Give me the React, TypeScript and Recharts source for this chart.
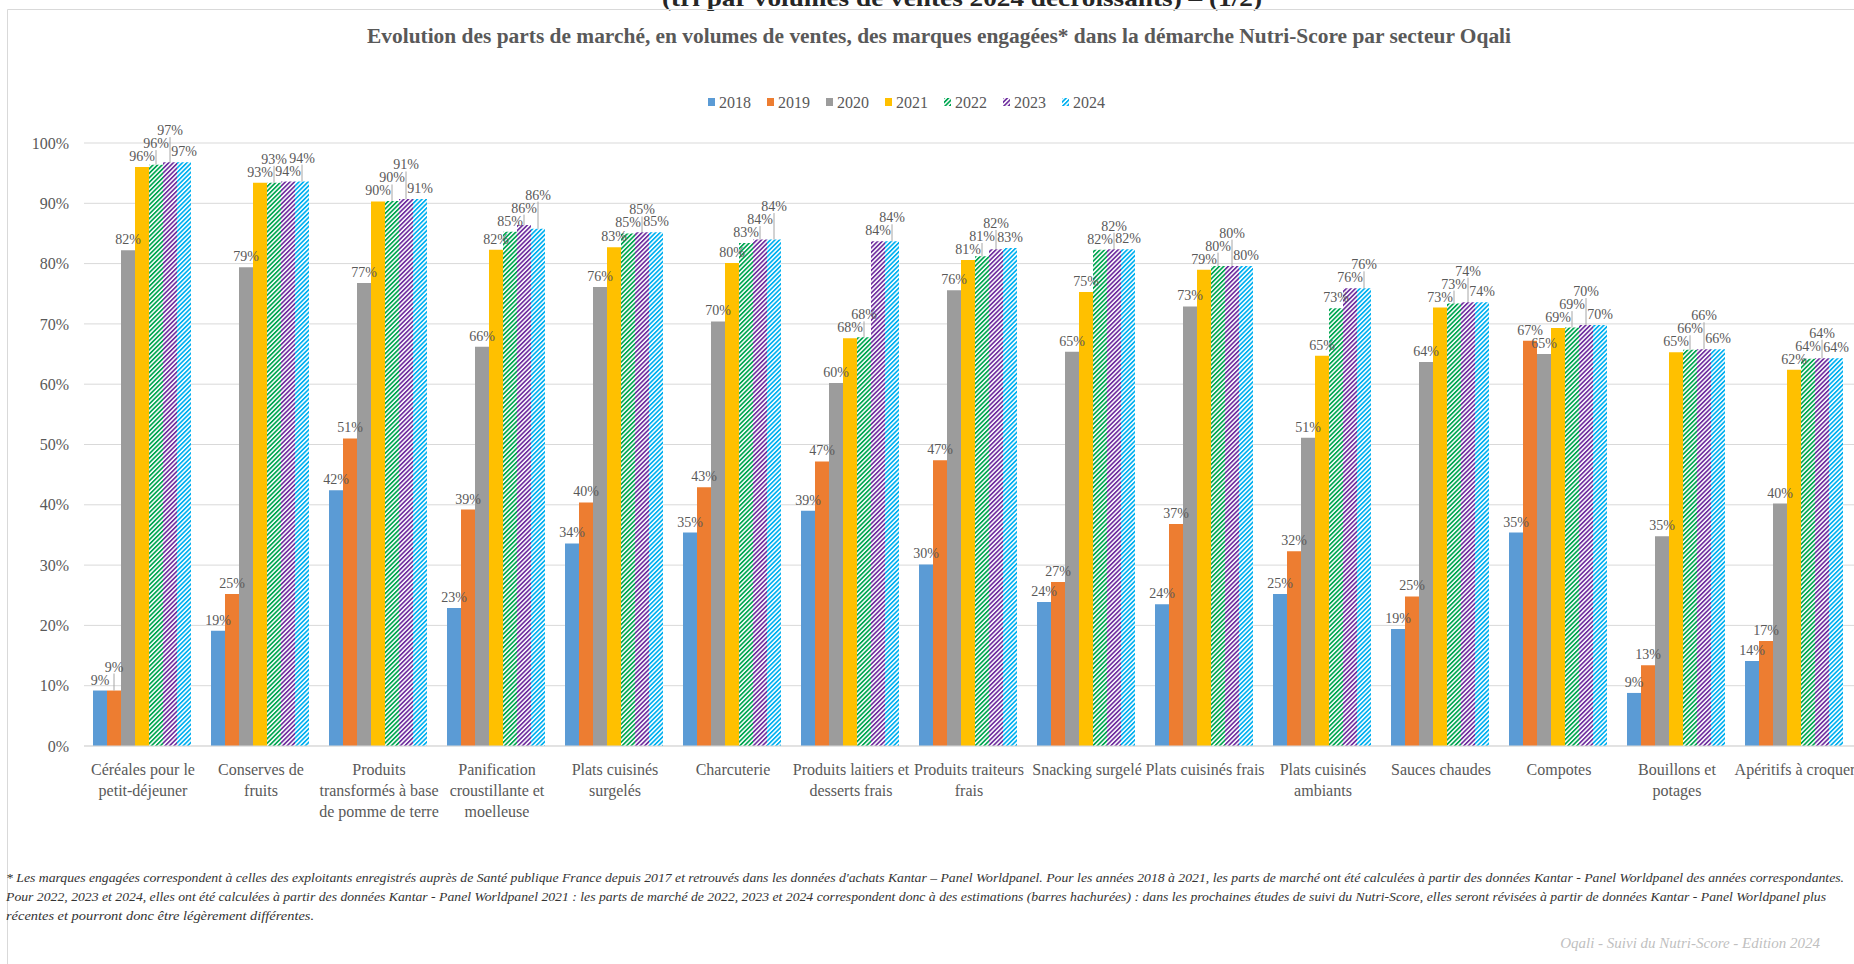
import React from 'react';
import { BarChart, Bar, XAxis, YAxis, CartesianGrid, LabelList } from 'recharts';

const FONT = '"Liberation Serif", "DejaVu Serif", serif';
const TEXT = '#595959';

const categories = [
  'Céréales pour le\npetit-déjeuner',
  'Conserves de\nfruits',
  'Produits\ntransformés à base\nde pomme de terre',
  'Panification\ncroustillante et\nmoelleuse',
  'Plats cuisinés\nsurgelés',
  'Charcuterie',
  'Produits laitiers et\ndesserts frais',
  'Produits traiteurs\nfrais',
  'Snacking surgelé',
  'Plats cuisinés frais',
  'Plats cuisinés\nambiants',
  'Sauces chaudes',
  'Compotes',
  'Bouillons et\npotages',
  'Apéritifs à croquer',
];

const years = ['2018', '2019', '2020', '2021', '2022', '2023', '2024'];

const v2018 = [9.2, 19.1, 42.4, 22.9, 33.6, 35.4, 39.0, 30.1, 23.9, 23.5, 25.2, 19.4, 35.4, 8.8, 14.1];
const v2019 = [9.2, 25.2, 51.0, 39.2, 40.4, 42.9, 47.2, 47.4, 27.2, 36.8, 32.3, 24.8, 67.2, 13.4, 17.4];
const v2020 = [82.2, 79.4, 76.8, 66.2, 76.1, 70.4, 60.2, 75.6, 65.4, 72.9, 51.1, 63.7, 65.0, 34.8, 40.2];
const v2021 = [96.0, 93.4, 90.3, 82.3, 82.7, 80.1, 67.6, 80.6, 75.3, 79.0, 64.7, 72.7, 69.3, 65.3, 62.4];
const v2022 = [96.4, 93.4, 90.4, 85.3, 85.0, 83.4, 67.8, 81.2, 82.3, 79.6, 72.6, 73.4, 69.4, 65.7, 64.2];
const v2023 = [96.8, 93.6, 90.7, 86.4, 85.2, 84.0, 83.7, 82.4, 82.4, 79.6, 75.9, 73.6, 69.8, 65.8, 64.3];
const v2024 = [96.8, 93.6, 90.7, 85.8, 85.2, 84.0, 83.7, 82.6, 82.4, 79.6, 75.9, 73.6, 69.8, 65.8, 64.3];

const yTicks = [0, 10, 20, 30, 40, 50, 60, 70, 80, 90, 100];

const series = [
  { key: 'y2018', name: years[0], values: v2018, color: '#5B9BD5', hatch: false },
  { key: 'y2019', name: years[1], values: v2019, color: '#ED7D31', hatch: false },
  { key: 'y2020', name: years[2], values: v2020, color: '#9C9C9C', hatch: false },
  { key: 'y2021', name: years[3], values: v2021, color: '#FFC000', hatch: false },
  { key: 'y2022', name: years[4], values: v2022, color: '#00A651', hatch: true },
  { key: 'y2023', name: years[5], values: v2023, color: '#7030A0', hatch: true },
  { key: 'y2024', name: years[6], values: v2024, color: '#00B0F0', hatch: true },
];

const data = categories.map((name, i) => {
  const row: any = { name };
  series.forEach(s => { row[s.key] = s.values[i]; });
  return row;
});

const fillOf = (s: typeof series[number]) => (s.hatch ? `url(#hatch-${s.name})` : s.color);

// label placement, roughly like Excel's: a label that collides with its neighbour is pushed up
const LABEL_SIZE = 14;
const LABEL_H = 11;
const labelWidth = (v: number) => LABEL_SIZE * (0.5 * String(Math.round(v)).length + 0.833);

function placeLabel(cat: number, cur: number, base: number, pxPer: number, cx0: number, barW: number) {
  const boxes: { cx: number; tw: number; bottom: number; top: number }[] = [];
  for (let i = 0; i < series.length; i++) {
    const v = series[i].values[cat];
    const top = base - v * pxPer;
    const cx = cx0 + (i - cur) * barW;
    const tw = labelWidth(v);
    let bottom = top - 6;
    let moved = true;
    while (moved) {
      moved = false;
      for (const b of boxes) {
        const xHit = Math.abs(b.cx - cx) < (b.tw + tw) / 2 - 2;
        const yHit = bottom > b.bottom - LABEL_H && bottom - LABEL_H < b.bottom;
        if (xHit && yHit) {
          bottom = b.bottom - LABEL_H - 2;
          moved = true;
        }
      }
    }
    boxes.push({ cx, tw, bottom, top });
  }
  return boxes[cur];
}

const makeLabel = (cur: number) => (props: any) => {
  const vb = props.viewBox || {};
  const x = Number(props.x ?? vb.x);
  const y = Number(props.y ?? vb.y);
  const width = Number(props.width ?? vb.width);
  const height = Number(props.height ?? vb.height);
  const value = Number(props.value);
  const index = Number(props.index);
  if (!value || !height) return null;
  const pxPer = height / value;
  const box = placeLabel(index, cur, y + height, pxPer, x + width / 2, width);
  const raised = box.top - box.bottom > 12;
  return (
    <g>
      {raised && (
        <line x1={box.cx} y1={box.bottom + 2} x2={box.cx} y2={box.top} stroke="#A6A6A6" strokeWidth={1} />
      )}
      <text x={box.cx} y={box.bottom} textAnchor="middle" fontSize={LABEL_SIZE} fontFamily={FONT} fill={TEXT}>
        {`${Math.round(value)}%`}
      </text>
    </g>
  );
};

const CategoryTick = (props: any) => {
  const { x, y, payload } = props;
  const lines = String(payload.value).split('\n');
  return (
    <text x={x} y={y} textAnchor="middle" fontSize={16} fontFamily={FONT} fill={TEXT}>
      {lines.map((l, i) => (
        <tspan key={i} x={x} dy={21}>{l}</tspan>
      ))}
    </text>
  );
};

function Patterns() {
  return (
    <svg width={0} height={0} style={{ position: 'absolute' }}>
      <defs>
        {series.filter(s => s.hatch).map(s => (
          <pattern
            key={s.name}
            id={`hatch-${s.name}`}
            patternUnits="userSpaceOnUse"
            width={3.2}
            height={3.2}
            patternTransform="rotate(45)"
          >
            <rect x={0} y={0} width={3.2} height={3.2} fill="#FFFFFF" />
            <rect x={0} y={0} width={1.7} height={3.2} fill={s.color} />
          </pattern>
        ))}
      </defs>
    </svg>
  );
}

export default function App() {
  return (
    <div style={{ position: 'absolute', left: 0, top: 0, width: 1854, height: 964, overflow: 'hidden', background: '#FFFFFF' }}>
      <Patterns />
      <svg width={1854} height={964} style={{ position: 'absolute', left: 0, top: 0 }}>
        <text x={962} y={6} textAnchor="middle" fontSize={24} fontWeight="bold" fontFamily={FONT} fill="#262626"
          textLength={600} lengthAdjust="spacingAndGlyphs">
          (tri par volumes de ventes 2024 décroissants) – (1/2)
        </text>
        <line x1={7.5} y1={9.5} x2={1854} y2={9.5} stroke="#D9D9D9" strokeWidth={1} />
        <line x1={7.5} y1={9.5} x2={7.5} y2={964} stroke="#D9D9D9" strokeWidth={1} />
        <text x={939} y={43} textAnchor="middle" fontSize={20} fontWeight="bold" fontFamily={FONT} fill={TEXT}
          textLength={1144} lengthAdjust="spacingAndGlyphs">
          Evolution des parts de marché, en volumes de ventes, des marques engagées* dans la démarche Nutri-Score par secteur Oqali
        </text>
        {series.map((s, i) => {
          const lx = 708 + i * 59;
          return (
            <g key={s.name}>
              <rect x={lx} y={98} width={7} height={8} fill={fillOf(s)} />
              <text x={lx + 11} y={107.5} fontSize={16} fontFamily={FONT} fill={TEXT}>{s.name}</text>
            </g>
          );
        })}
        <g fontFamily={FONT} fontStyle="italic" fontSize={13.5} fill="#333333">
          <text x={6} y={882} textLength={1838} lengthAdjust="spacingAndGlyphs">
            * Les marques engagées correspondent à celles des exploitants enregistrés auprès de Santé publique France depuis 2017 et retrouvés dans les données d'achats Kantar – Panel Worldpanel. Pour les années 2018 à 2021, les parts de marché ont été calculées à partir des données Kantar - Panel Worldpanel des années correspondantes.
          </text>
          <text x={6} y={901} textLength={1820} lengthAdjust="spacingAndGlyphs">
            Pour 2022, 2023 et 2024, elles ont été calculées à partir des données Kantar - Panel Worldpanel 2021 : les parts de marché de 2022, 2023 et 2024 correspondent donc à des estimations (barres hachurées) : dans les prochaines études de suivi du Nutri-Score, elles seront révisées à partir de données Kantar - Panel Worldpanel plus
          </text>
          <text x={6} y={920} textLength={308} lengthAdjust="spacingAndGlyphs">
            récentes et pourront donc être légèrement différentes.
          </text>
        </g>
        <text x={1820} y={948} textAnchor="end" fontSize={15} fontStyle="italic" fontFamily={FONT} fill="#BFBFBF">
          Oqali - Suivi du Nutri-Score - Edition 2024
        </text>
      </svg>
      <div style={{ position: 'absolute', left: 0, top: 0 }}>
        <BarChart
          width={1854}
          height={964}
          data={data}
          margin={{ top: 143, right: 0, left: 0, bottom: 188 }}
          barCategoryGap={9}
          barGap={0}
        >
          <CartesianGrid vertical={false} stroke="#D9D9D9" />
          <XAxis
            dataKey="name"
            interval={0}
            height={30}
            tickLine={false}
            axisLine={{ stroke: '#D9D9D9' }}
            tick={<CategoryTick />}
          />
          <YAxis
            width={84}
            domain={[0, 100]}
            ticks={yTicks}
            tickFormatter={v => `${v}%`}
            axisLine={false}
            tickLine={false}
            tickMargin={9}
            tick={{ fontSize: 16, fontFamily: FONT, fill: TEXT }}
          />
          {series.map((s, i) => (
            <Bar key={s.key} dataKey={s.key} name={s.name} fill={fillOf(s)} isAnimationActive={false}>
              <LabelList dataKey={s.key} content={makeLabel(i)} />
            </Bar>
          ))}
        </BarChart>
      </div>
    </div>
  );
}
